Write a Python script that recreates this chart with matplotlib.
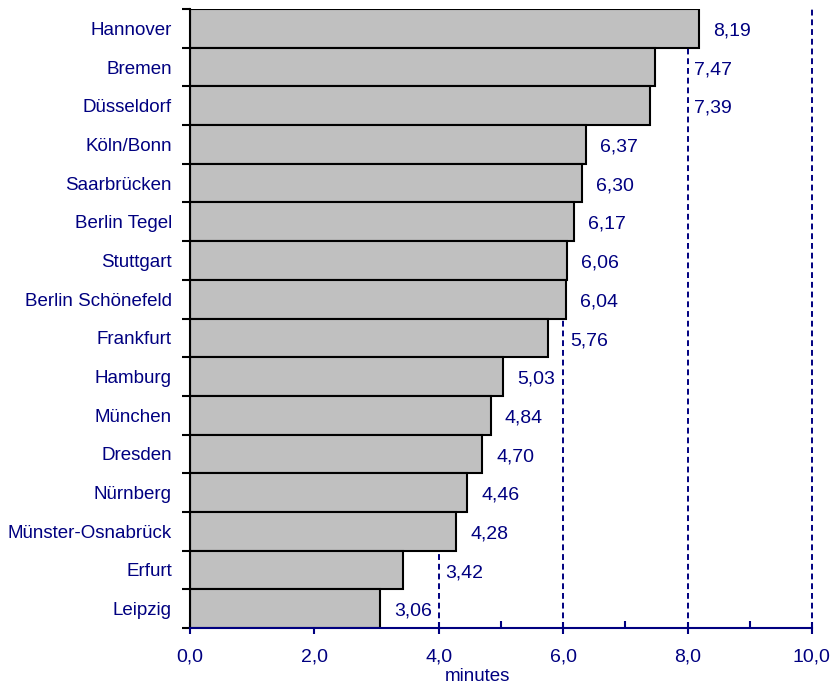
import matplotlib
matplotlib.use("Agg")
import matplotlib.pyplot as plt
from matplotlib.ticker import MultipleLocator, FixedLocator, NullFormatter

plt.rcParams['font.family'] = ['Liberation Sans', 'DejaVu Sans']

# data
airports = ["Hannover", "Bremen", "Düsseldorf", "Köln/Bonn", "Saarbrücken",
            "Berlin Tegel", "Stuttgart", "Berlin Schönefeld", "Frankfurt",
            "Hamburg", "München", "Dresden", "Nürnberg", "Münster-Osnabrück",
            "Erfurt", "Leipzig"]
minutes = [8.19, 7.47, 7.39, 6.37, 6.30, 6.17, 6.06, 6.04, 5.76,
           5.03, 4.84, 4.70, 4.46, 4.28, 3.42, 3.06]
xticks = [0, 2, 4, 6, 8, 10]
gridlines = [2, 4, 6, 8, 10]

navy = "#000080"

fig = plt.figure(figsize=(8.31, 6.86), dpi=100)
ax = fig.add_axes([0.2286, 0.0845, 0.977 - 0.2286, 0.9869 - 0.0845])

n = len(airports)
ypos = list(range(n))[::-1]
ax.barh(ypos, minutes, height=1.0, color="#c0c0c0", edgecolor="black",
        linewidth=1.5, zorder=2)

# value labels, pushed past a dashed line if they would sit on it
gap, width, shift = 0.225, 0.63, 0.11
for y, v in zip(ypos, minutes):
    x = v + gap
    for g in gridlines:
        if x < g < x + width:
            x = g + shift
    ax.text(x, y - 0.07, f"{v:.2f}".replace(".", ","), va="center", ha="left",
            fontsize=14, color=navy)

ax.set_xlim(0, 10)
ax.set_ylim(-0.5, n - 0.5)

# x axis
ax.set_xticks(xticks)
ax.set_xticklabels([f"{t:.1f}".replace(".", ",") for t in xticks],
                   fontsize=14, color=navy)
ax.xaxis.set_minor_locator(MultipleLocator(1))
ax.tick_params(axis="x", which="major", direction="inout", length=9,
               width=1.5, color=navy, pad=10)
ax.tick_params(axis="x", which="minor", direction="in", length=5,
               width=1.5, color=navy)
ax.set_xlabel("minutes", fontsize=13.5, color=navy)
ax.xaxis.set_label_coords(0.463, -0.064)
ax.grid(axis="x", which="major", color=navy, linestyle=(0, (3, 2)),
        linewidth=1.4, zorder=1)
for gl in ax.get_xgridlines():
    gl.set_clip_on(False)

# y axis: labels at centres, ticks at the boundaries
ax.yaxis.set_major_locator(FixedLocator(ypos))
ax.set_yticklabels(airports, fontsize=13.5, color=navy)
ax.tick_params(axis="y", which="major", length=0, pad=13)
ax.yaxis.set_minor_locator(FixedLocator([i - 0.5 for i in range(n + 1)]))
ax.yaxis.set_minor_formatter(NullFormatter())
ax.tick_params(axis="y", which="minor", direction="out", length=6,
               width=1.5, color="black")

ax.spines["top"].set_visible(False)
ax.spines["right"].set_visible(False)
ax.spines["left"].set_color("black")
ax.spines["left"].set_linewidth(1.5)
ax.spines["bottom"].set_color(navy)
ax.spines["bottom"].set_linewidth(1.5)
ax.set_axisbelow(True)

fig.savefig("out.png", dpi=100)
